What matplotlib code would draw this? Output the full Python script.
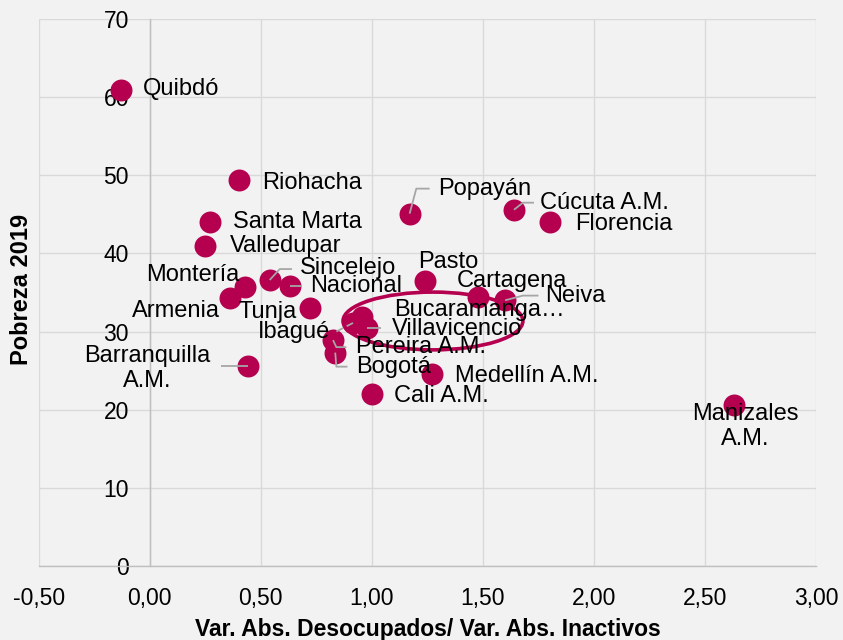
import matplotlib
matplotlib.use("Agg")
import matplotlib.pyplot as plt
from matplotlib.patches import Ellipse
from matplotlib.ticker import FuncFormatter

plt.rcParams['font.family'] = ['Liberation Sans', 'DejaVu Sans']

# ---- data ----
cities = ["Quibdó", "Riohacha", "Santa Marta", "Valledupar", "Montería", "Armenia",
          "Sincelejo", "Nacional", "Tunja", "Barranquilla\nA.M.", "Ibagué",
          "Pereira A.M.", "Bogotá", "Bucaramanga…", "Villavicencio", "Pasto",
          "Cartagena", "Neiva", "Popayán", "Cúcuta A.M.", "Florencia",
          "Medellín A.M.", "Cali A.M.", "Manizales\nA.M."]
x_vals = [-0.13, 0.40, 0.27, 0.25, 0.43, 0.36,
          0.54, 0.63, 0.72, 0.44, 0.915,
          0.825, 0.835, 0.955, 0.98, 1.24,
          1.48, 1.60, 1.17, 1.64, 1.80,
          1.27, 1.00, 2.63]
y_vals = [60.9, 49.4, 44.0, 41.0, 35.7, 34.3,
          36.6, 35.8, 33.0, 25.6, 31.1,
          28.9, 27.3, 31.8, 30.4, 36.5,
          34.4, 34.0, 45.1, 45.6, 44.0,
          24.5, 22.0, 20.6]

# label positions (data units) and alignment
label_x = [-0.03, 0.505, 0.374, 0.36, 0.405, 0.315,
           0.676, 0.72, 0.662, -0.01, 0.81,
           0.93, 0.93, 1.10, 1.09, 1.21,
           1.38, 1.78, 1.30, 1.757, 1.914,
           1.374, 1.10, 2.68]
label_y = [61.0, 49.0, 44.0, 41.0, 37.2, 32.6,
           38.1, 35.8, 32.5, 25.3, 30.0,
           28.0, 25.5, 32.8, 30.3, 38.9,
           36.5, 34.6, 48.3, 46.5, 43.8,
           24.3, 21.8, 17.8]
label_ha = ["left", "left", "left", "left", "right", "right",
            "left", "left", "right", "center", "right",
            "left", "left", "left", "left", "left",
            "left", "left", "left", "left", "left",
            "left", "left", "center"]
# leader lines: vertices from the point to the label
leaders = {
    "Sincelejo": [(0.585, 38.0), (0.64, 38.0)],
    "Nacional": [(0.685, 35.8)],
    "Barranquilla\nA.M.": [(0.32, 25.6)],
    "Ibagué": [(0.84, 30.0)],
    "Pereira A.M.": [(0.84, 28.0), (0.885, 28.0)],
    "Bogotá": [(0.84, 25.5), (0.89, 25.5)],
    "Villavicencio": [(1.04, 30.4)],
    "Neiva": [(1.68, 34.6), (1.75, 34.6)],
    "Popayán": [(1.20, 48.3), (1.26, 48.3)],
    "Cúcuta A.M.": [(1.68, 46.5), (1.73, 46.5)],
}

# highlighted group (ellipse)
ell_center = (1.275, 31.35)
ell_w, ell_h = 0.81, 7.4

x_ticks = [-0.5, 0.0, 0.5, 1.0, 1.5, 2.0, 2.5, 3.0]
y_ticks = [0, 10, 20, 30, 40, 50, 60, 70]

point_color = "#B5004F"
bg = "#F2F2F2"
grid_c = "#D9D9D9"

fig = plt.figure(figsize=(8.43, 6.4), dpi=100, facecolor=bg)
ax = fig.add_axes([0.046, 0.116, 0.922, 0.854], facecolor=bg)

ax.set_xlim(-0.5, 3.0)
ax.set_ylim(0, 70)
ax.set_xticks(x_ticks)
ax.set_yticks(y_ticks)
ax.xaxis.set_major_formatter(FuncFormatter(lambda v, p: f"{v:.2f}".replace(".", ",")))
ax.yaxis.set_major_formatter(FuncFormatter(lambda v, p: f"{v:.0f}"))
ax.grid(True, color=grid_c, linewidth=1.0, zorder=0)
ax.set_axisbelow(True)

for s in ["top", "right"]:
    ax.spines[s].set_visible(False)
ax.spines["left"].set_position(("data", 0))
ax.spines["left"].set_color("#BFBFBF")
ax.spines["left"].set_linewidth(1.0)
ax.spines["bottom"].set_color("#BFBFBF")
ax.spines["bottom"].set_linewidth(1.0)
ax.tick_params(axis="both", length=0, labelsize=16.5, colors="black")
ax.tick_params(axis="y", pad=15)
ax.tick_params(axis="x", pad=15)

ax.scatter(x_vals, y_vals, s=250, color=point_color, zorder=3, linewidths=0)

for name, px, py, lx, ly, ha in zip(cities, x_vals, y_vals, label_x, label_y, label_ha):
    ax.text(lx, ly, name, ha=ha, va="center", fontsize=17, color="black",
            zorder=5, linespacing=1.2, multialignment="center")
    if name in leaders:
        pts = [(px, py)] + leaders[name]
        ax.plot([p[0] for p in pts], [p[1] for p in pts], color="#A6A6A6",
                linewidth=1.3, zorder=4, solid_capstyle="butt")

ax.add_patch(Ellipse(ell_center, ell_w, ell_h, fill=False, edgecolor=point_color,
                     linewidth=2.6, zorder=4))

ax.set_xlabel("Var. Abs. Desocupados/ Var. Abs. Inactivos", fontsize=16.5,
              fontweight="bold", labelpad=6)
fig.text(0.026, 0.547, "Pobreza 2019", rotation=90, ha="center", va="center",
         fontsize=17, fontweight="bold")

fig.savefig("out.png", dpi=100, facecolor=bg)
